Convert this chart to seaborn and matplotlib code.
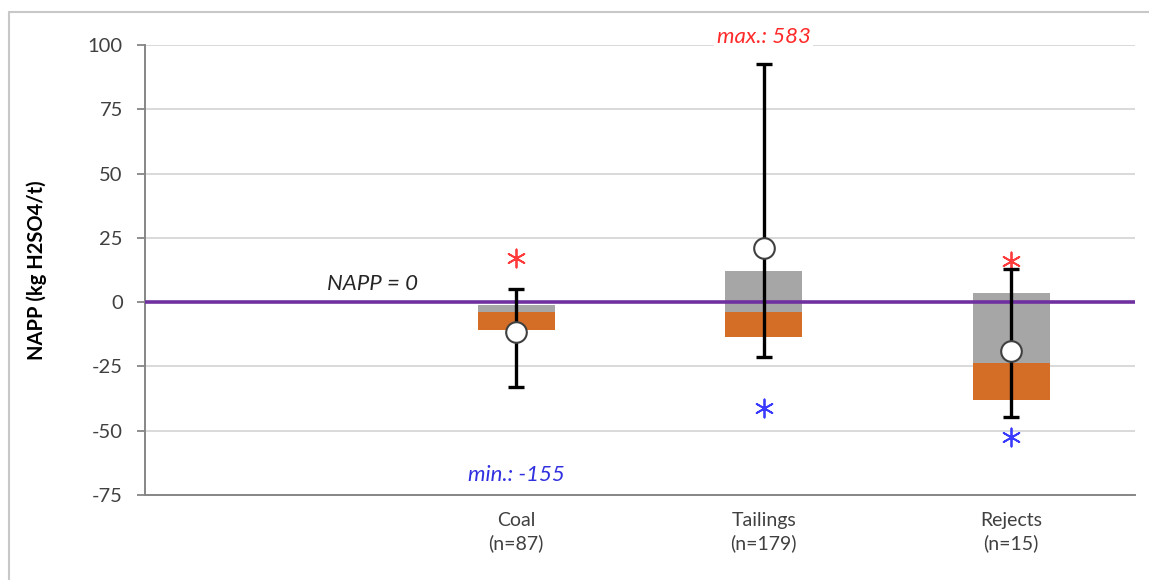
import matplotlib
matplotlib.use("Agg")
import matplotlib.pyplot as plt
import seaborn as sns
import pandas as pd
from matplotlib.lines import Line2D

# ---- data ----
categories = ["", "Coal\n(n=87)", "Tailings\n(n=179)", "Rejects\n(n=15)"]
box_groups = ["Coal", "Tailings", "Rejects"]
q1 = [-11, -13.6, -38]
median = [-4, -3.8, -23.8]
q3 = [-1, 12.2, 3.6]
whisk_low = [-33, -21.3, -44.6]
whisk_high = [5, 92.6, 12.8]
means = [-11.5, 21, -19]
p95 = [17, None, 16]      # Tailings p95 beyond axis (max label)
p5 = [None, -41, -52.4]   # Coal p5 beyond axis (min label)
yticks = [-75, -50, -25, 0, 25, 50, 75, 100]

sns.set_theme(style="white")
plt.rcParams["font.family"] = ["Lato", "DejaVu Sans"]

fig = plt.figure(figsize=(11.49, 5.8), dpi=100)
ax = fig.add_axes([145/1149, 1-495/580, (1135-145)/1149, 450/580])

xpos = [1, 2, 3]
width = 0.31

orange = "#D46E27"
gray = "#A6A6A6"

# floating stacked bars
ax.bar(xpos, [m - a for m, a in zip(median, q1)], bottom=q1, width=width,
       color=orange, zorder=2, linewidth=0)
ax.bar(xpos, [b - m for b, m in zip(q3, median)], bottom=median, width=width,
       color=gray, zorder=2, linewidth=0)

# zero line
ax.axhline(0, color="#7030A0", lw=2.6, zorder=3)

# whiskers
ax.vlines(xpos, whisk_low, whisk_high, color="black", lw=2.4, zorder=4)
cap = 0.033
ax.hlines(whisk_low, [x - cap for x in xpos], [x + cap for x in xpos], color="black", lw=2.4, zorder=4)
ax.hlines(whisk_high, [x - cap for x in xpos], [x + cap for x in xpos], color="black", lw=2.4, zorder=4)

# means
dfm = pd.DataFrame({"x": xpos, "y": means})
sns.scatterplot(data=dfm, x="x", y="y", ax=ax, s=220, color="white",
                edgecolor="#404040", linewidth=1.5, zorder=5)

# percentiles (asterisks)
d95 = pd.DataFrame({"x": [x for x, v in zip(xpos, p95) if v is not None],
                    "y": [v for v in p95 if v is not None]})
d5 = pd.DataFrame({"x": [x for x, v in zip(xpos, p5) if v is not None],
                   "y": [v for v in p5 if v is not None]})
sns.scatterplot(data=d95, x="x", y="y", ax=ax, marker=(6, 2, 0), s=170,
                color="#FF3B3B", linewidth=1.3, zorder=3)
sns.scatterplot(data=d5, x="x", y="y", ax=ax, marker=(6, 2, 0), s=170,
                color="#3B3BFF", linewidth=1.3, zorder=3)

# annotations
ax.text(2, 103, "max.: 583", color="#FF2B2B", fontsize=16, style="italic",
        ha="center", va="center", zorder=6,
        bbox=dict(facecolor="white", edgecolor="none", pad=2))
ax.text(1, -67.3, "min.: -155", color="#3030E0", fontsize=16, style="italic",
        ha="center", va="center", zorder=6)
ax.text(0.42, 7.2, "NAPP = 0", color="#262626", fontsize=16, style="italic",
        ha="center", va="center", zorder=6)

# axes styling
ax.set_xlim(-0.5, 3.5)
ax.set_ylim(-75, 100)
ax.set_yticks(yticks)
ax.set_yticklabels([str(t) for t in yticks], fontsize=14.5, color="#404040")
ax.set_xticks(range(len(categories)))
ax.set_xticklabels(categories, fontsize=14, color="#404040", linespacing=1.35)
ax.tick_params(axis="x", length=0, pad=12)
ax.tick_params(axis="y", length=6, width=1.3, color="#868686", direction="out", left=True, pad=10)
ax.yaxis.grid(True, color="#D9D9D9", lw=1.4, zorder=0)
ax.set_axisbelow(True)
for s in ["top", "right"]:
    ax.spines[s].set_visible(False)
for s in ["left", "bottom"]:
    ax.spines[s].set_color("#868686")
    ax.spines[s].set_linewidth(1.4)
ax.set_xlabel("")
ax.set_ylabel("NAPP (kg H2SO4/t)", fontsize=14.5, fontweight="bold", color="black")
ax.yaxis.set_label_coords((47 - 145) / 990, 0.5)

# outer frame (left and top)
fig.add_artist(Line2D([9/1149, 9/1149], [0, 1-12/580], color="#C8C8C8", lw=1.5))
fig.add_artist(Line2D([9/1149, 1], [1-12/580, 1-12/580], color="#C8C8C8", lw=1.5))

fig.savefig("out.png", dpi=100, facecolor="white")
